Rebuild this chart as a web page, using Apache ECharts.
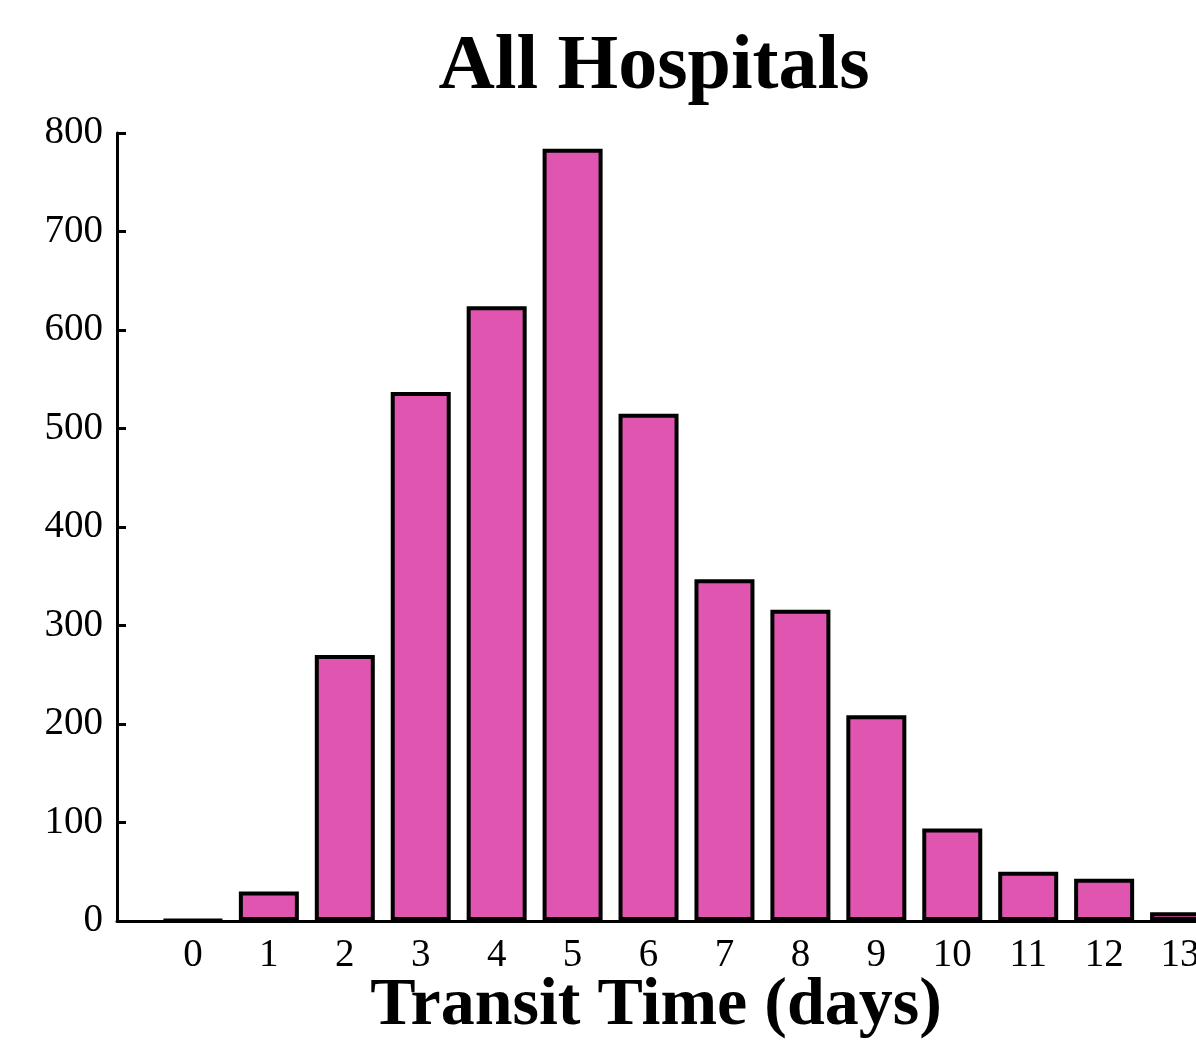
<!DOCTYPE html>
<html>
<head>
<meta charset="utf-8">
<script src="https://cdn.jsdelivr.net/npm/echarts@6/dist/echarts.min.js"></script>
<style>html,body{margin:0;padding:0;background:#fff;overflow:hidden}#c{width:1259px;height:1046px}</style>
</head>
<body>
<div id="c"></div>
<script>
const days = [0,1,2,3,4,5,6,7,8,9,10,11,12,13];
const counts = [1,30,270,537,624,784,515,347,316,209,94,50,43,9];
const yTicks = [0,100,200,300,400,500,600,700,800];
const titleText = 'All Hospitals';
const xName = 'Transit Time (days)';

const font = '"Liberation Serif","DejaVu Serif",serif';
const chart = echarts.init(document.getElementById('c'));
chart.setOption({
  animation:false,
  backgroundColor:'#fff',
  title:[
    {text:titleText,left:649,top:24,textAlign:'center',textStyle:{fontFamily:font,fontSize:78,fontWeight:'bold',color:'#000'}},
    {text:xName,left:651,top:967,textAlign:'center',textStyle:{fontFamily:font,fontSize:68,fontWeight:'bold',color:'#000'}}
  ],
  grid:{left:117,top:133,bottom:125,right:0,containLabel:false},
  xAxis:{
    type:'value',min:-1,max:14,interval:1,
    axisLine:{show:true,onZero:false,lineStyle:{color:'#000',width:3}},
    axisTick:{show:false},
    splitLine:{show:false},
    axisLabel:{
      margin:15,fontFamily:font,fontSize:39,color:'#000',
      formatter:function(v){return days.indexOf(v)>=0?String(v):'';}
    }
  },
  yAxis:{
    type:'value',min:yTicks[0],max:yTicks[yTicks.length-1],interval:100,
    axisLine:{show:true,onZero:false,lineStyle:{color:'#000',width:3}},
    axisTick:{show:true,inside:true,length:9,lineStyle:{color:'#000',width:3}},
    splitLine:{show:false},
    axisLabel:{margin:14,fontFamily:font,fontSize:39,color:'#000'}
  },
  series:[{
    type:'bar',
    data:days.map((d,i)=>[d,counts[i]]),
    barWidth:60,
    itemStyle:{color:'#E055B0',borderColor:'#000',borderWidth:4}
  }]
});
</script>
</body>
</html>
